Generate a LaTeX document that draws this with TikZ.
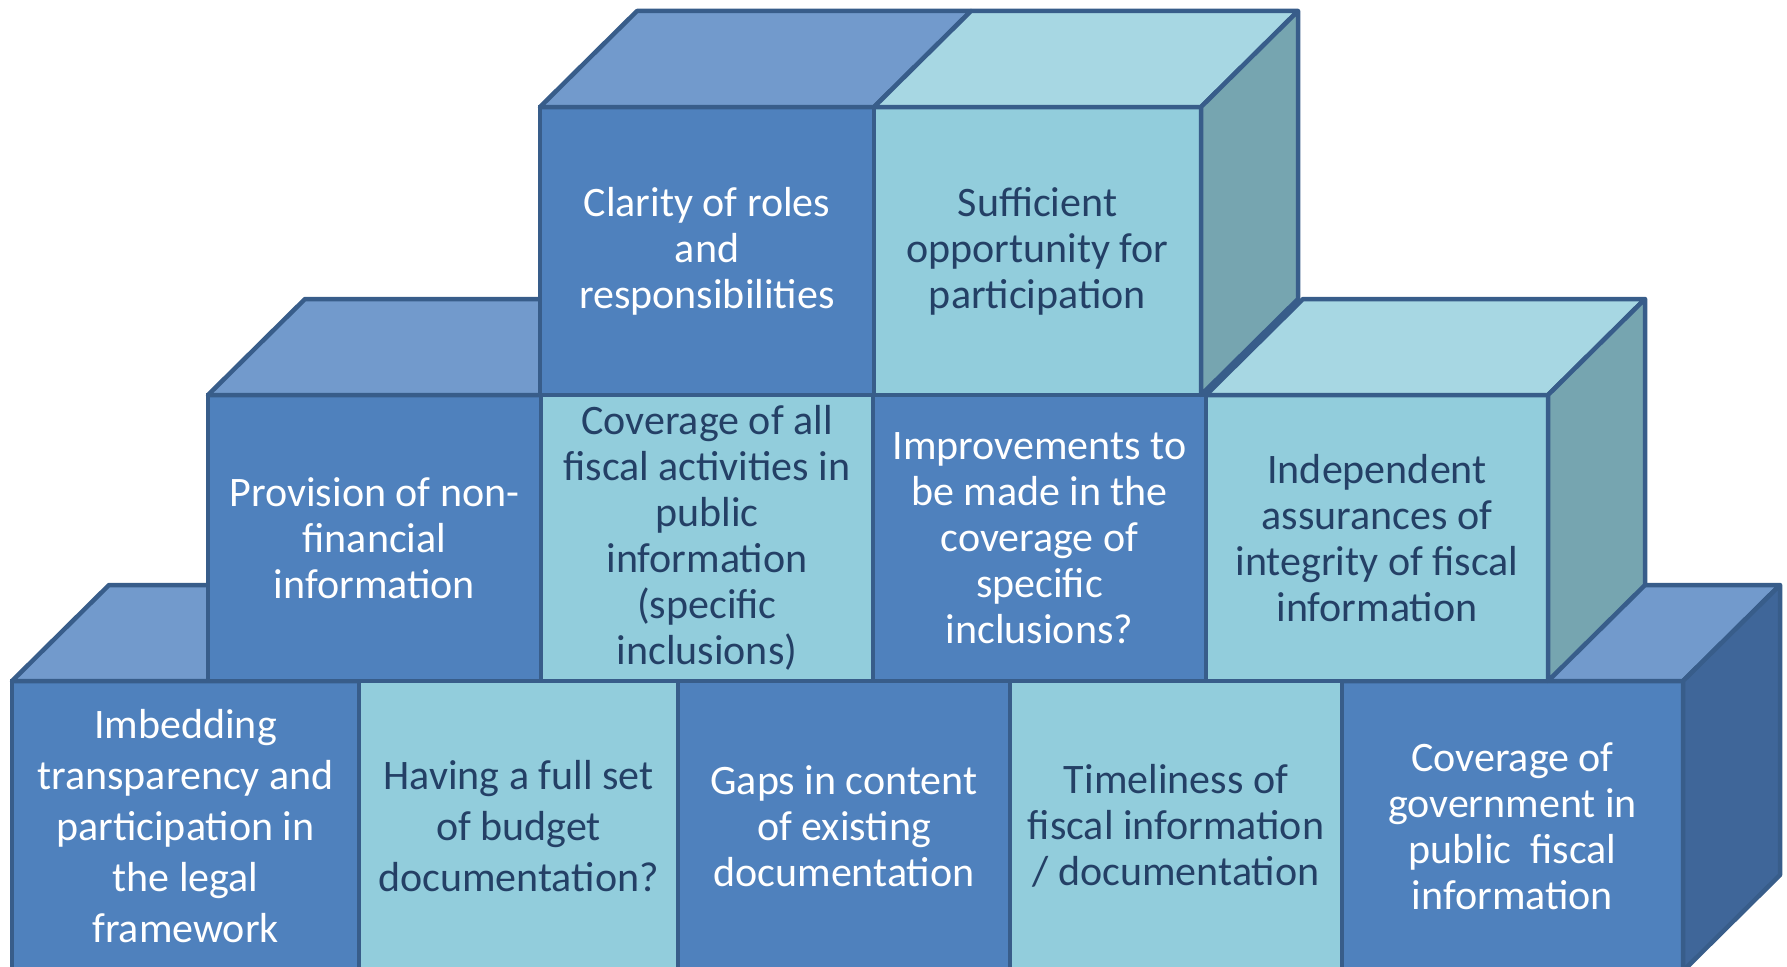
\documentclass[tikz,border=0pt]{standalone}
\usepackage{fontspec}
\setmainfont{Carlito}
\usetikzlibrary{calc}
\definecolor{darkBlue}{rgb}{0.310,0.506,0.741}
\definecolor{darkBlueTop}{rgb}{0.447,0.604,0.800}
\definecolor{darkBlueSide}{rgb}{0.247,0.400,0.600}
\definecolor{lightBlue}{rgb}{0.573,0.804,0.863}
\definecolor{lightBlueTop}{rgb}{0.655,0.843,0.890}
\definecolor{lightBlueSide}{rgb}{0.463,0.647,0.690}
\definecolor{blueRand}{rgb}{0.220,0.365,0.541}
\definecolor{navyText}{rgb}{0.140,0.250,0.400}
\tikzstyle{face} = [rectangle,draw=blueRand,line width=4.5pt,outer sep=0pt,inner sep=0pt,align=center,font=\fontsize{42}{46}\selectfont]
\tikzstyle{darkface} = [face,fill=darkBlue,text=white]
\tikzstyle{lightface} = [face,fill=lightBlue,text=navyText]
\tikzstyle{wide} = [font=\fontsize{42}{51}\selectfont]
\tikzstyle{darktop} = [draw=blueRand,line width=4.5pt,line join=round,fill=darkBlueTop]
\tikzstyle{lighttop} = [draw=blueRand,line width=4.5pt,line join=round,fill=lightBlueTop]
\tikzstyle{darkside} = [draw=blueRand,line width=4.5pt,line join=round,fill=darkBlueSide]
\tikzstyle{lightside} = [draw=blueRand,line width=4.5pt,line join=round,fill=lightBlueSide]

\begin{document}
\begin{tikzpicture}[x=1pt,y=-1pt]
\clip (0,0) rectangle (1787,966);

% bottom row
\node[darkface,wide,minimum width=347,minimum height=290] (Imb) at (185.5,826) {%
	Imbedding\\transparency and\\participation in\\the legal\\framework%
};
\node[lightface,wide,minimum width=319,minimum height=290] (Set) at (518.5,826) {%
	Having a full set\\of budget\\documentation?%
};
\node[darkface,minimum width=332,minimum height=290] (Gap) at (844,826) {%
	Gaps in content\\of existing\\documentation%
};
\node[lightface,minimum width=332,minimum height=290] (Tim) at (1176,826) {%
	Timeliness of\\fiscal information\\/ documentation%
};
\node[darkface,minimum width=341,minimum height=290] (Cov) at (1512.5,826) {%
	Coverage of\\government in\\public\ \ fiscal\\information%
};

\draw[darktop] (Imb.north west) -- ++(97,-96) -- ($(Imb.north east)+(97,-96)$) -- (Imb.north east) -- cycle;
\draw[darktop] (Cov.north west) -- ++(97,-96) -- ($(Cov.north east)+(97,-96)$) -- (Cov.north east) -- cycle;
\draw[darkside] (Cov.north east) -- ++(97,-96) -- ++(0,290) -- (Cov.south east) -- cycle;

% middle row
\node[darkface,minimum width=333,minimum height=286] (Prov) at (374.5,538) {%
	Provision of non-\\financial\\information%
};
\node[lightface,minimum width=332,minimum height=286] (All) at (707,538) {%
	Coverage of all\\fiscal activities in\\public\\information\\(specific\\inclusions)%
};
\node[darkface,minimum width=333,minimum height=286] (Imp) at (1039.5,538) {%
	Improvements to\\be made in the\\coverage of\\specific\\inclusions?%
};
\node[lightface,minimum width=342,minimum height=286] (Ind) at (1377,538) {%
	Independent\\assurances of\\integrity of fiscal\\information%
};

\draw[darktop] (Prov.north west) -- ++(97,-96) -- ($(Prov.north east)+(97,-96)$) -- (Prov.north east) -- cycle;
\draw[lighttop] (Ind.north west) -- ++(97,-96) -- ($(Ind.north east)+(97,-96)$) -- (Ind.north east) -- cycle;
\draw[lightside] (Ind.north east) -- ++(97,-96) -- ++(0,286) -- (Ind.south east) -- cycle;

% top row
\node[darkface,minimum width=334,minimum height=288] (Cla) at (707,251) {%
	Clarity of roles\\and\\responsibilities%
};
\node[lightface,minimum width=327,minimum height=288] (Suf) at (1037.5,251) {%
	Sufficient\\opportunity for\\participation%
};

\draw[darktop] (Cla.north west) -- ++(97,-96) -- ($(Cla.north east)+(97,-96)$) -- (Cla.north east) -- cycle;
\draw[lighttop] (Suf.north west) -- ++(97,-96) -- ($(Suf.north east)+(97,-96)$) -- (Suf.north east) -- cycle;
\draw[lightside] (Suf.north east) -- ++(97,-96) -- ++(0,288) -- (Suf.south east) -- cycle;
\end{tikzpicture}
\end{document}
